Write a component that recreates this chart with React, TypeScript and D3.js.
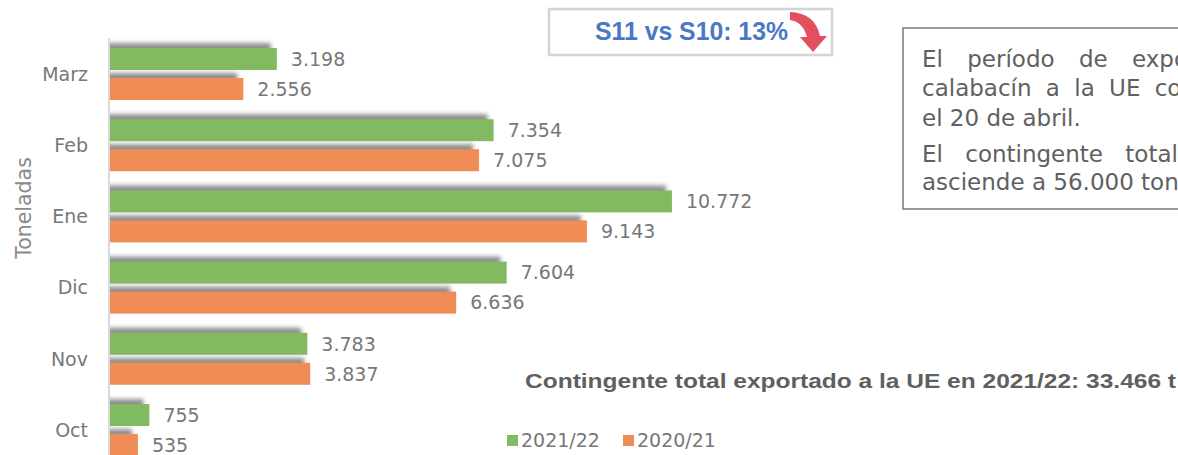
import React from 'react';
import * as d3 from 'd3';

const months = ['Marz', 'Feb', 'Ene', 'Dic', 'Nov', 'Oct'];
const seriesNames = ['2021/22', '2020/21'];
const values2122 = [3198, 7354, 10772, 7604, 3783, 755];
const values2021 = [2556, 7075, 9143, 6636, 3837, 535];
const seriesColors = ['#82BA62', '#F08C55'];

const boxLines = [
  'El período de exportación de',
  'calabacín a la UE concluye',
  'el 20 de abril.',
  'El contingente total autorizado',
  'asciende a 56.000 toneladas.',
];
const boxWordSpacing = [17, 7, 0, 15, 0];
const boxBaselines = [67, 96, 126, 162, 190];

const W = 1178;
const H = 455;
const fmt = (v: number) => d3.format(',')(v).replace(/,/g, '.');

const App: React.FC = () => {
  const x = d3.scaleLinear().domain([0, 12000]).range([110, 736]);
  const y = d3
    .scaleBand<string>()
    .domain(months)
    .range([38.4, 465.6])
    .paddingInner(0.27)
    .paddingOuter(0.135);
  const inner = d3
    .scaleBand<string>()
    .domain(seriesNames)
    .range([0, y.bandwidth()])
    .paddingInner(0.267);

  const series = [values2122, values2021];
  const labelColor = '#777777';

  return (
    <div style={{ position: 'absolute', left: 0, top: 0 }}>
      <svg width={W} height={H} style={{ display: 'block', background: '#fff' }}>
        <defs>
          <filter id="blur" x="-20%" y="-50%" width="140%" height="200%">
            <feGaussianBlur stdDeviation={2.2} />
          </filter>
          <clipPath id="plotClip">
            <rect x={110} y={0} width={W} height={H} />
          </clipPath>
        </defs>

        {/* bars with shadows */}
        <g>
          {seriesNames.map((name, si) =>
            months.map((m, i) => {
              const v = series[si][i];
              const by = (y(m) ?? 0) + (inner(name) ?? 0);
              const bh = inner.bandwidth();
              const x1 = x(v);
              return (
                <g key={name + m}>
                  <rect
                    x={x(0) - 4}
                    y={by - 5}
                    width={Math.max(0, x1 - x(0) - 2)}
                    height={bh}
                    fill="#6a6a6a"
                    opacity={0.75}
                    filter="url(#blur)"
                    clipPath="url(#plotClip)"
                  />
                  <rect x={x(0)} y={by} width={x1 - x(0)} height={bh} fill={seriesColors[si]} />
                  <text
                    x={x1 + 14}
                    y={by + bh / 2}
                    dy="0.36em"
                    fontFamily="DejaVu Sans"
                    fontSize={19}
                    fill={labelColor}
                  >
                    {fmt(v)}
                  </text>
                </g>
              );
            })
          )}
        </g>

        {/* axis */}
        <line x1={109} x2={109} y1={38} y2={H} stroke="#d9d9d9" strokeWidth={2} />
        {months.map(m => (
          <text
            key={m}
            x={88}
            y={(y(m) ?? 0) + y.bandwidth() / 2}
            dy="0.36em"
            textAnchor="end"
            fontFamily="DejaVu Sans"
            fontSize={19}
            fill={labelColor}
          >
            {m}
          </text>
        ))}
        <text
          transform="translate(24,208) rotate(-90)"
          textAnchor="middle"
          dy="0.36em"
          fontFamily="DejaVu Sans"
          fontSize={20.5}
          fill="#8a8a8a"
        >
          Toneladas
        </text>

        {/* top box */}
        <rect x={549} y={9} width={283} height={46} fill="#fff" stroke="#d4d4d4" strokeWidth={2.5} />
        <text
          x={595}
          y={31}
          dy="0.36em"
          fontFamily="Liberation Sans"
          fontWeight="bold"
          fontSize={26}
          textLength={193}
          lengthAdjust="spacingAndGlyphs"
          fill="#4A78C6"
        >
          S11 vs S10: 13%
        </text>
        <path
          d="M790,12 Q815,13 820,36 L827,36 L813,52 L800,37 L807,37 Q803,22 790,20 Z"
          fill="#E2505E"
        />

        {/* right text box */}
        <rect x={903} y={28} width={300} height={181} fill="#fff" stroke="#7a7a7a" strokeWidth={1.5} />
        {boxLines.map((t, i) => (
          <text
            key={i}
            x={922}
            y={boxBaselines[i]}
            fontFamily="DejaVu Sans"
            fontSize={23}
            wordSpacing={boxWordSpacing[i]}
            fill="#606060"
          >
            {t}
          </text>
        ))}

        {/* total */}
        <text
          x={525}
          y={388}
          fontFamily="Liberation Sans"
          fontWeight="bold"
          fontSize={21}
          textLength={651}
          lengthAdjust="spacingAndGlyphs"
          fill="#5f5f5f"
        >
          Contingente total exportado a la UE en 2021/22: 33.466 t
        </text>

        {/* legend */}
        {seriesNames.map((name, si) => {
          const lx = 507 + si * 116;
          return (
            <g key={name}>
              <rect x={lx} y={435} width={11} height={11} fill={seriesColors[si]} />
              <text
                x={lx + 14}
                y={440}
                dy="0.36em"
                fontFamily="DejaVu Sans"
                fontSize={19}
                fill={labelColor}
              >
                {name}
              </text>
            </g>
          );
        })}
      </svg>
    </div>
  );
};

export default App;
